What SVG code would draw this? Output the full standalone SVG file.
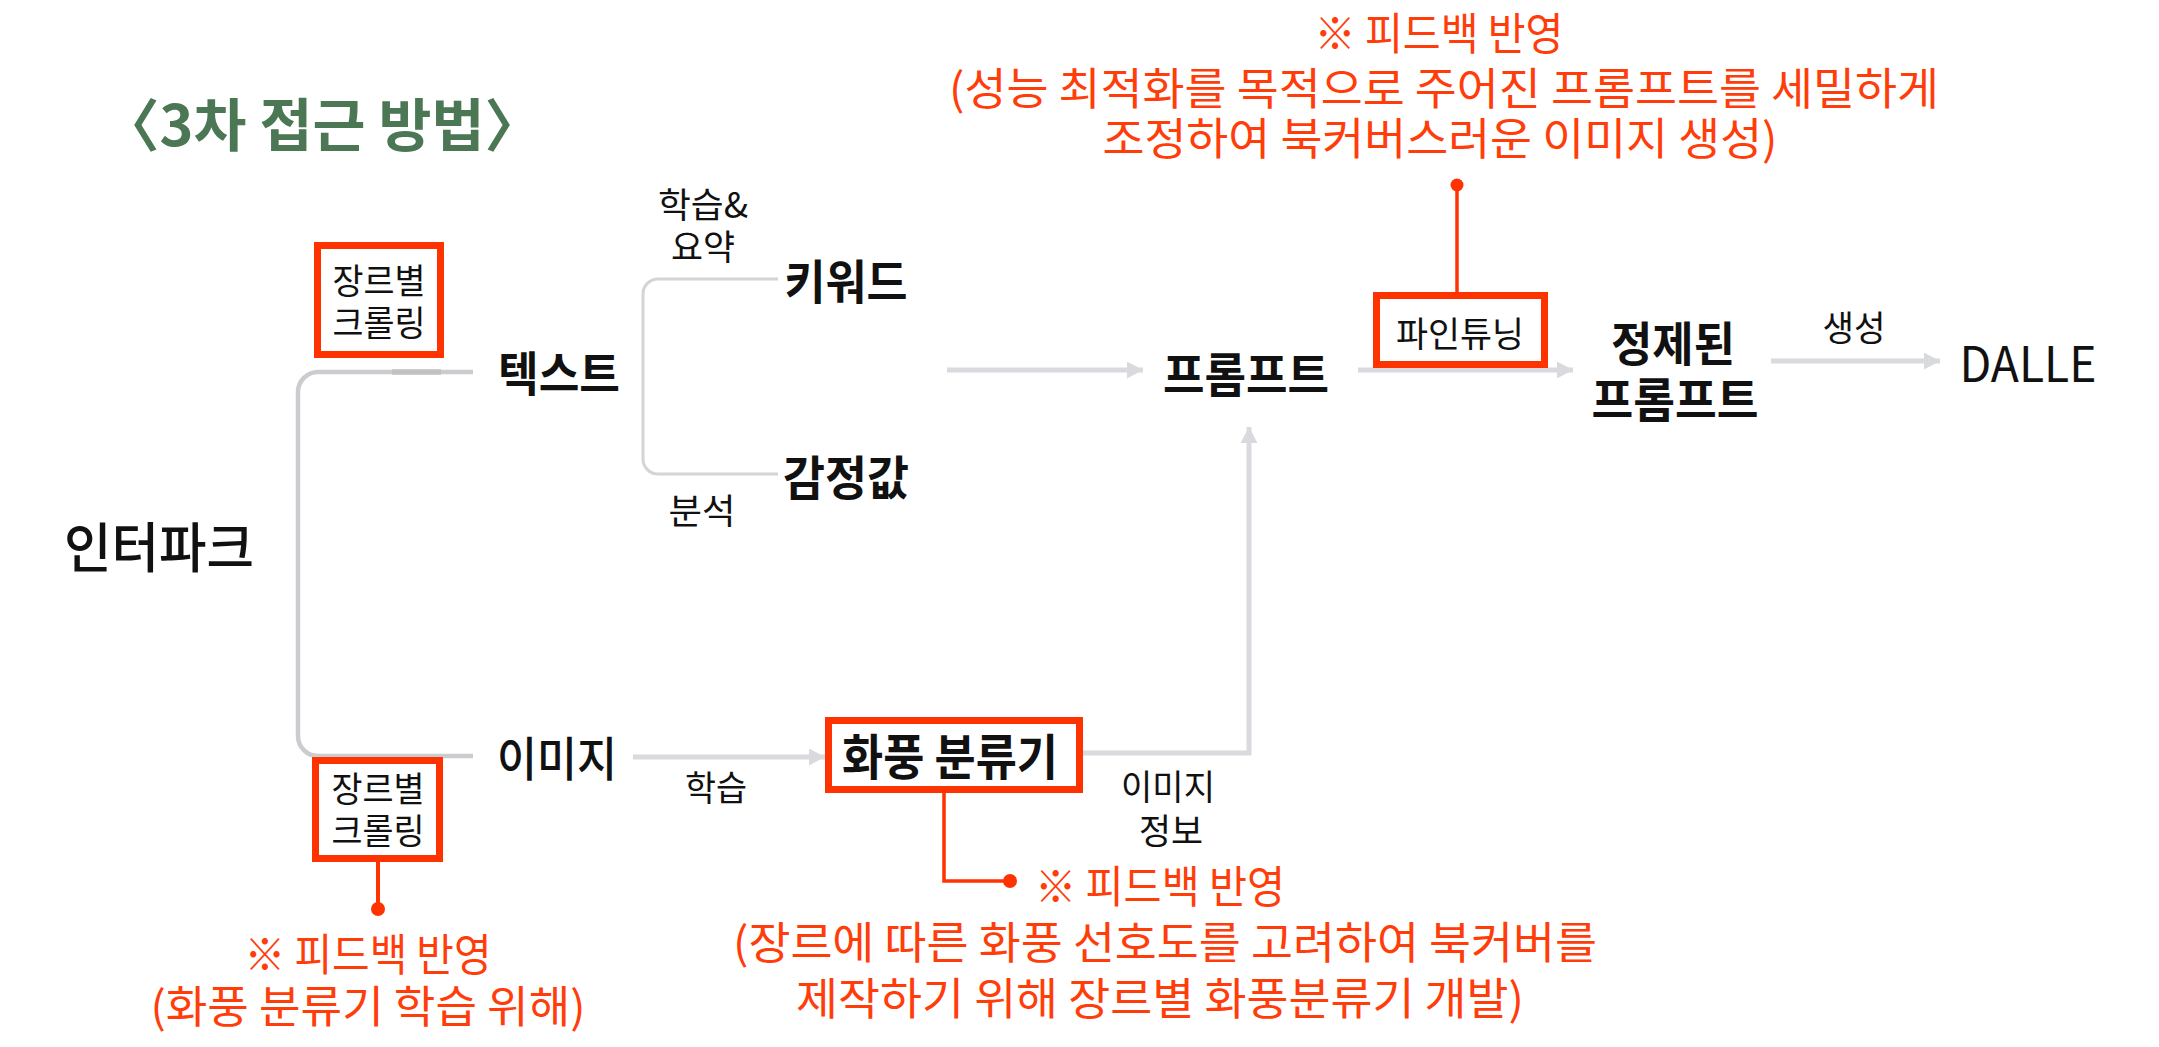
<svg xmlns="http://www.w3.org/2000/svg" width="2159" height="1047" viewBox="0 0 2159 1047">
<style>
text{font-family:"Noto Sans CJK KR","Noto Sans",sans-serif;dominant-baseline:central;text-anchor:middle;fill:#111;}
.title{font-size:57px;font-weight:700;fill:#4b7755;}
.node{font-size:47px;font-weight:700;}
.nodem{font-size:47px;font-weight:500;}
.lbl{font-size:35px;font-weight:400;}
.note{font-size:44px;font-weight:400;fill:#ff3d0a;}
.rbox{fill:#fff;stroke:#ff3300;stroke-width:7;}
.gl{fill:none;stroke:#d9dadd;stroke-width:5;}
.rl{fill:none;stroke:#ff3300;stroke-width:3.5;}
.dot{fill:#ff3300;}
</style>
<defs>
<marker id="ah" markerUnits="userSpaceOnUse" markerWidth="16" markerHeight="17" refX="16" refY="8.5" orient="auto">
<path d="M0,0 L16,8.5 L0,17 z" fill="#d9dadd"/>
</marker>
</defs>
<rect width="2159" height="1047" fill="#fff"/>
<text class="title" x="322" y="121" textLength="440" lengthAdjust="spacingAndGlyphs">〈3차 접근 방법〉</text>

<g id="connectors">
<path d="M473,372 H318 A20,20 0 0 0 298,392 V736 A20,20 0 0 0 318,756 H473" fill="none" stroke="#cbccd0" stroke-width="4.5"/>
<line x1="392" y1="372" x2="441" y2="372" stroke="#c2c2c4" stroke-width="5.5"/>
<path d="M778,279 H658 A15,15 0 0 0 643,294 V459 A15,15 0 0 0 658,474 H778" fill="none" stroke="#d3d4d7" stroke-width="3"/>
<path class="gl" d="M947,370 H1143" marker-end="url(#ah)"/>
<path class="gl" d="M633,757 H825" marker-end="url(#ah)"/>
<path class="gl" d="M1083,753 H1249 V427" marker-end="url(#ah)"/>
<path class="gl" d="M1358,370 H1573" marker-end="url(#ah)"/>
<path class="gl" d="M1771,361 H1940" marker-end="url(#ah)"/>
<path class="rl" d="M1457,185 V292"/>
<circle class="dot" cx="1457" cy="185" r="6.5"/>
<path class="rl" d="M378,862 V909" style="stroke-width:4"/>
<circle class="dot" cx="378" cy="909" r="7"/>
<path class="rl" d="M944,793 V881 H1008"/>
<circle class="dot" cx="1010" cy="881" r="7"/>
</g>

<g id="node-interpark"><text class="nodem" x="159" y="544" style="font-size:54px" textLength="190" lengthAdjust="spacingAndGlyphs">인터파크</text></g>
<g id="node-crawl-top">
<rect class="rbox" x="317.5" y="245.5" width="123" height="109"/>
<text class="lbl" x="379" y="278" textLength="93" lengthAdjust="spacingAndGlyphs">장르별</text>
<text class="lbl" x="379" y="320" textLength="93" lengthAdjust="spacingAndGlyphs">크롤링</text>
</g>
<g id="node-crawl-bottom">
<rect class="rbox" x="315.5" y="760.5" width="124" height="98"/>
<text class="lbl" x="378" y="786" textLength="93" lengthAdjust="spacingAndGlyphs">장르별</text>
<text class="lbl" x="378" y="828" textLength="93" lengthAdjust="spacingAndGlyphs">크롤링</text>
</g>
<g id="node-text"><text class="node" x="559" y="370" textLength="122" lengthAdjust="spacingAndGlyphs">텍스트</text></g>
<g id="node-image"><text class="nodem" x="557" y="755" textLength="120" lengthAdjust="spacingAndGlyphs">이미지</text></g>
<g id="label-learn-sum">
<text class="lbl" x="703" y="202" textLength="90" lengthAdjust="spacingAndGlyphs">학습&amp;</text>
<text class="lbl" x="703" y="244" textLength="64" lengthAdjust="spacingAndGlyphs">요약</text>
</g>
<g id="label-analysis"><text class="lbl" x="702" y="508" textLength="67" lengthAdjust="spacingAndGlyphs">분석</text></g>
<g id="node-keyword"><text class="node" x="846" y="278" textLength="123" lengthAdjust="spacingAndGlyphs">키워드</text></g>
<g id="node-sentiment"><text class="node" x="846" y="474" textLength="126" lengthAdjust="spacingAndGlyphs">감정값</text></g>
<g id="node-prompt"><text class="node" x="1246" y="371" textLength="166" lengthAdjust="spacingAndGlyphs">프롬프트</text></g>
<g id="node-finetune">
<rect class="rbox" x="1376.5" y="295.5" width="168" height="69"/>
<text class="lbl" x="1460" y="331" textLength="128" lengthAdjust="spacingAndGlyphs">파인튜닝</text>
</g>
<g id="node-refined">
<text class="node" x="1673" y="340" textLength="124" lengthAdjust="spacingAndGlyphs">정제된</text>
<text class="node" x="1675" y="396" textLength="167" lengthAdjust="spacingAndGlyphs">프롬프트</text>
</g>
<g id="label-generate"><text class="lbl" x="1854" y="325" textLength="63" lengthAdjust="spacingAndGlyphs">생성</text></g>
<g id="node-dalle"><text class="nodem" x="2028" y="360" style="font-size:49px;font-weight:400" textLength="137" lengthAdjust="spacingAndGlyphs">DALLE</text></g>
<g id="label-learn"><text class="lbl" x="716" y="785" textLength="62" lengthAdjust="spacingAndGlyphs">학습</text></g>
<g id="node-classifier">
<rect class="rbox" x="828.5" y="720.5" width="251" height="69"/>
<text class="node" x="950" y="753" style="font-size:49px" textLength="216" lengthAdjust="spacingAndGlyphs">화풍 분류기</text>
</g>
<g id="label-imageinfo">
<text class="lbl" x="1168" y="784" textLength="94" lengthAdjust="spacingAndGlyphs">이미지</text>
<text class="lbl" x="1171" y="828" textLength="64" lengthAdjust="spacingAndGlyphs">정보</text>
</g>
<g id="note-top">
<text class="note" x="1439" y="31" textLength="249" lengthAdjust="spacingAndGlyphs">※ 피드백 반영</text>
<text class="note" x="1444" y="86" textLength="990" lengthAdjust="spacingAndGlyphs">(성능 최적화를 목적으로 주어진 프롬프트를 세밀하게</text>
<text class="note" x="1440" y="136" textLength="675" lengthAdjust="spacingAndGlyphs">조정하여 북커버스러운 이미지 생성)</text>
</g>
<g id="note-bottom-left">
<text class="note" x="368" y="952" textLength="247" lengthAdjust="spacingAndGlyphs">※ 피드백 반영</text>
<text class="note" x="368" y="1004" textLength="435" lengthAdjust="spacingAndGlyphs">(화풍 분류기 학습 위해)</text>
</g>
<g id="note-middle">
<text class="note" x="1160" y="884" textLength="250" lengthAdjust="spacingAndGlyphs">※ 피드백 반영</text>
<text class="note" x="1165" y="940" textLength="864" lengthAdjust="spacingAndGlyphs">(장르에 따른 화풍 선호도를 고려하여 북커버를</text>
<text class="note" x="1160" y="996" textLength="728" lengthAdjust="spacingAndGlyphs">제작하기 위해 장르별 화풍분류기 개발)</text>
</g>
</svg>
